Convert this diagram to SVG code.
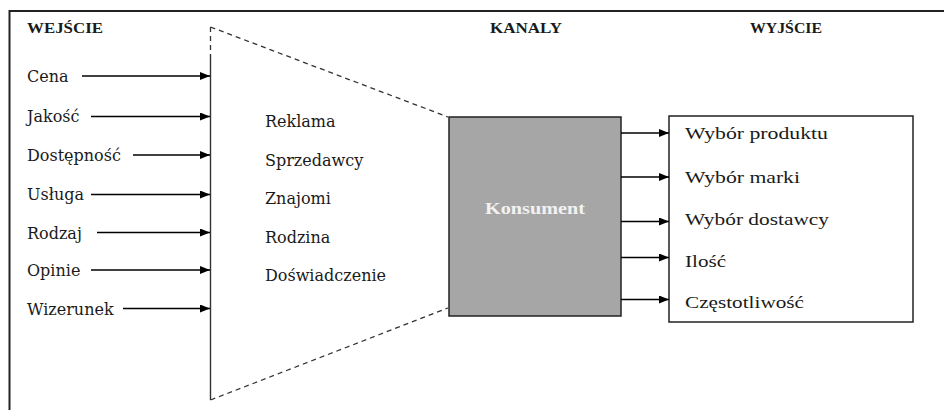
<svg xmlns="http://www.w3.org/2000/svg" width="944" height="410" viewBox="0 0 944 410">
<defs>
<marker id="ah" markerWidth="10" markerHeight="8" refX="10" refY="4" orient="auto" markerUnits="userSpaceOnUse">
<path d="M0,0 L10,4 L0,8 Z" fill="#000"/>
</marker>
<style>
.hd{font-family:"Liberation Serif","Times New Roman",serif;font-weight:bold;font-size:15px;fill:#1a1a1a}
.lt{font-family:"DejaVu Serif","Liberation Serif",serif;font-size:16px;fill:#1a1a1a}
.rt{font-family:"Liberation Serif","Times New Roman",serif;font-size:17px;fill:#1a1a1a}
.ar{stroke:#000;stroke-width:1.3;fill:none;marker-end:url(#ah)}
.dash{stroke:#333;stroke-width:1.3;fill:none;stroke-dasharray:5 4}
</style>
</defs>
<rect width="944" height="410" fill="#fff"/>
<path d="M9.5,410 V11 H944" fill="none" stroke="#222" stroke-width="2"/>
<g id="headers">
<text class="hd" x="27" y="33" textLength="76" lengthAdjust="spacingAndGlyphs">WEJŚCIE</text>
<text class="hd" x="490" y="33" textLength="72" lengthAdjust="spacingAndGlyphs">KANALY</text>
<text class="hd" x="750" y="33" textLength="72" lengthAdjust="spacingAndGlyphs">WYJŚCIE</text>
</g>
<g id="inputs">
<text class="lt" x="27" y="82">Cena</text>
<text class="lt" x="27" y="122">Jakość</text>
<text class="lt" x="27" y="161">Dostępność</text>
<text class="lt" x="27" y="200">Usługa</text>
<text class="lt" x="27" y="239">Rodzaj</text>
<text class="lt" x="27" y="276">Opinie</text>
<text class="lt" x="27" y="315">Wizerunek</text>
</g>
<g id="channels">
<path class="dash" d="M210.5,27 V55 M210.5,27 L448,117 M210.5,400 L448,308"/>
<path d="M210.5,55 V400" stroke="#333" stroke-width="1.4" fill="none"/>
<text class="lt" x="265" y="127">Reklama</text>
<text class="lt" x="265" y="166">Sprzedawcy</text>
<text class="lt" x="265" y="204">Znajomi</text>
<text class="lt" x="265" y="243">Rodzina</text>
<text class="lt" x="265" y="281">Doświadczenie</text>
</g>
<g id="konsument">
<rect x="449" y="117" width="172" height="199" fill="#a6a6a6" stroke="#222" stroke-width="1.5"/>
<text x="485" y="214" font-family="Liberation Serif, Times New Roman, serif" font-weight="bold" font-size="17" fill="#f2f2f2" textLength="100" lengthAdjust="spacingAndGlyphs">Konsument</text>
</g>
<g id="outputs">
<rect x="669" y="116" width="244" height="206" fill="#fff" stroke="#222" stroke-width="1.5"/>
<text class="rt" x="685" y="139" textLength="143" lengthAdjust="spacingAndGlyphs">Wybór produktu</text>
<text class="rt" x="685" y="183" textLength="115" lengthAdjust="spacingAndGlyphs">Wybór marki</text>
<text class="rt" x="685" y="225" textLength="144" lengthAdjust="spacingAndGlyphs">Wybór dostawcy</text>
<text class="rt" x="685" y="267" textLength="41" lengthAdjust="spacingAndGlyphs">Ilość</text>
<text class="rt" x="685" y="308" textLength="119" lengthAdjust="spacingAndGlyphs">Częstotliwość</text>
</g>
<g id="connectors">
<line class="ar" x1="82" y1="76" x2="210" y2="76"/>
<line class="ar" x1="91" y1="116.5" x2="210" y2="116.5"/>
<line class="ar" x1="133" y1="155" x2="210" y2="155"/>
<line class="ar" x1="91" y1="194.5" x2="210" y2="194.5"/>
<line class="ar" x1="97" y1="232.5" x2="210" y2="232.5"/>
<line class="ar" x1="91" y1="270" x2="210" y2="270"/>
<line class="ar" x1="123" y1="308.5" x2="210" y2="308.5"/>
<line class="ar" x1="621" y1="133" x2="669" y2="133"/>
<line class="ar" x1="621" y1="177" x2="669" y2="177"/>
<line class="ar" x1="621" y1="221.5" x2="669" y2="221.5"/>
<line class="ar" x1="621" y1="257.5" x2="669" y2="257.5"/>
<line class="ar" x1="621" y1="299.5" x2="669" y2="299.5"/>
</g>
</svg>
